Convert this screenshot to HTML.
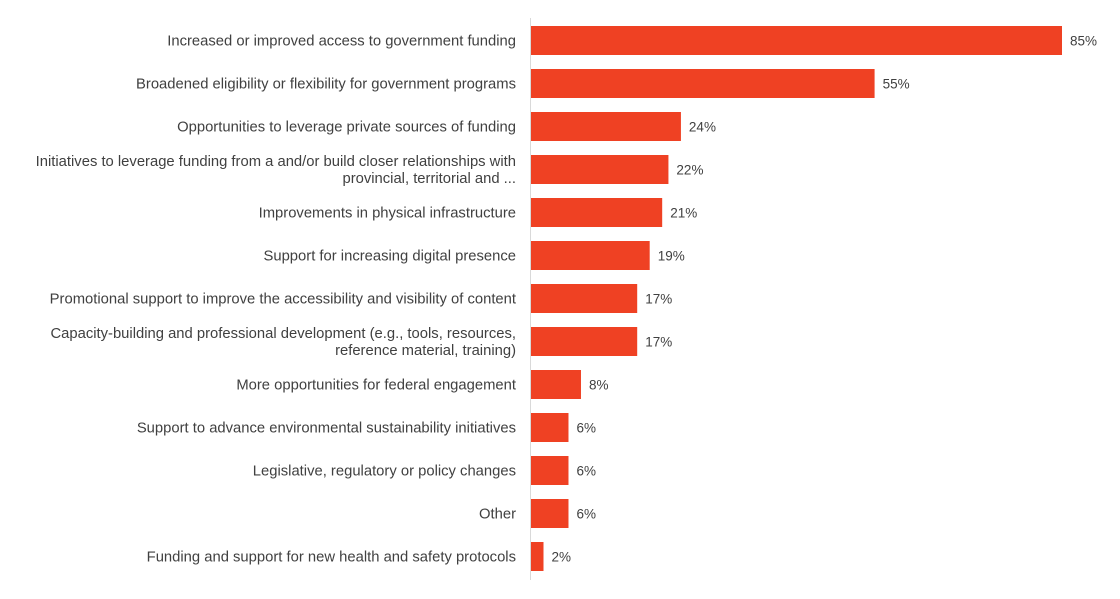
<!DOCTYPE html>
<html><head><meta charset="utf-8"><style>
body{margin:0;background:#fff;width:1120px;height:594px;overflow:hidden;font-family:"Liberation Sans",sans-serif}
</style></head><body>
<svg id="chart" width="1120" height="594" xmlns="http://www.w3.org/2000/svg"></svg>
<script>
const categories=["Increased or improved access to government funding","Broadened eligibility or flexibility for government programs","Opportunities to leverage private sources of funding","Initiatives to leverage funding from a and/or build closer relationships with|provincial, territorial and ...","Improvements in physical infrastructure","Support for increasing digital presence","Promotional support to improve the accessibility and visibility of content","Capacity-building and professional development (e.g., tools, resources,|reference material, training)","More opportunities for federal engagement","Support to advance environmental sustainability initiatives","Legislative, regulatory or policy changes","Other","Funding and support for new health and safety protocols"];
const values=[85,55,24,22,21,19,17,17,8,6,6,6,2];
const valueLabels=values.map(v=>v+"%");
const svg=document.getElementById('chart');
const NS="http://www.w3.org/2000/svg";
const x0=531, pxPer=531/85, top0=26, step=43, bh=29;
const xScale=v=>x0+v*pxPer;
const yScale=i=>top0+i*step;
const axis=document.createElementNS(NS,'line');


axis.setAttribute('x1',530.5);axis.setAttribute('x2',530.5);axis.setAttribute('y1',18);axis.setAttribute('y2',580);
axis.setAttribute('stroke','#d9d9d9');axis.setAttribute('stroke-width',1);
svg.appendChild(axis);
categories.forEach((c,i)=>{
  const y=yScale(i);
  const r=document.createElementNS(NS,'rect');
  
  
  r.setAttribute('x',x0);r.setAttribute('y',y);r.setAttribute('width',xScale(values[i])-x0);r.setAttribute('height',bh);
  r.setAttribute('fill','#EF4123');
  svg.appendChild(r);
  const t=document.createElementNS(NS,'text');
  
  
  t.setAttribute('x',xScale(values[i])+8);t.setAttribute('y',y+bh/2+5);
  t.setAttribute('font-size',13.5);t.setAttribute('fill','#404040');
  t.textContent=valueLabels[i];
  svg.appendChild(t);
  const lines=c.split('|');
  const l=document.createElementNS(NS,'text');
  
  
  l.setAttribute('text-anchor','end');l.setAttribute('font-size',14.8);l.setAttribute('fill','#404040');
  lines.forEach((ln,k)=>{
    const ts=document.createElementNS(NS,'tspan');
    ts.setAttribute('x',516);
    ts.setAttribute('y',y+bh/2+5+(k-(lines.length-1)/2)*17);
    ts.textContent=ln;
    l.appendChild(ts);
  });
  svg.appendChild(l);
});
</script>
</body></html>
